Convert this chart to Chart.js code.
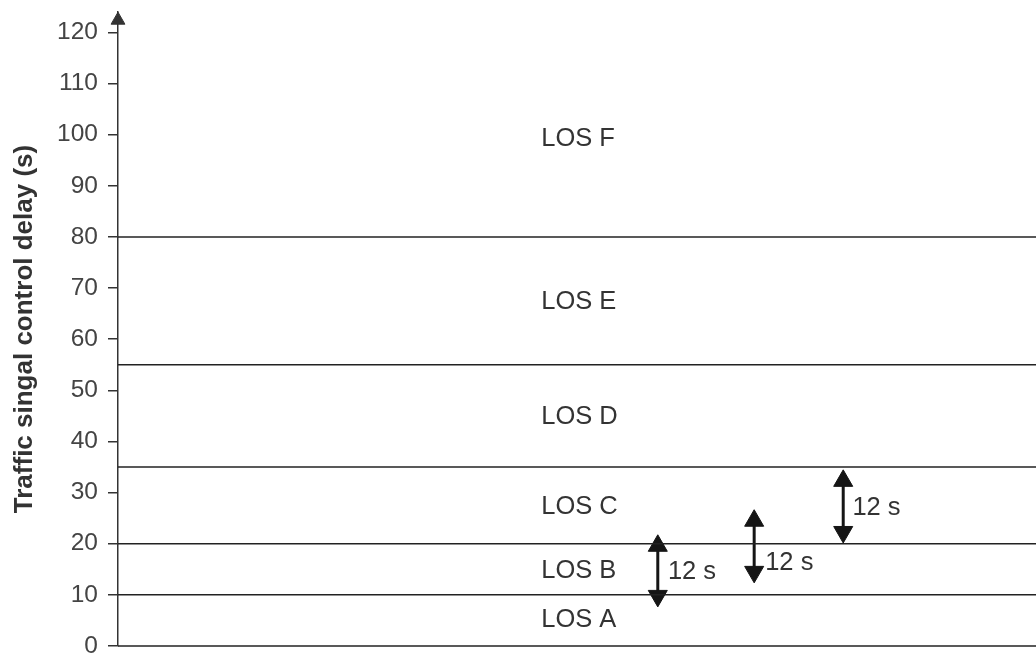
<!DOCTYPE html>
<html>
<head>
<meta charset="utf-8">
<script src="https://cdn.jsdelivr.net/npm/chart.js@4"></script>
<style>
  html, body { margin: 0; padding: 0; background: #fff; }
</style>
</head>
<body>
<canvas id="myChart" width="1036" height="657"></canvas>
<script>
// data
const yTicks = [0, 10, 20, 30, 40, 50, 60, 70, 80, 90, 100, 110, 120];
const yMin = 0;
const yMax = 124;
const losBounds = [0, 10, 20, 35, 55, 80];
const losNames = ['LOS A', 'LOS B', 'LOS C', 'LOS D', 'LOS E', 'LOS F'];
const losLabelY = [5.1, 14.7, 27.2, 44.8, 67.3, 99.2];
const losLabelX = 46.1;
const arrowX = [58.8, 69.3, 79.0];
const arrowLow = [9.8, 14.5, 22.3];
const arrowHigh = [19.6, 24.5, 32.3];
const arrowText = ['12 s', '12 s', '12 s'];
const arrowTextX = [59.9, 70.5, 80.0];
const arrowTextY = [14.5, 16.2, 27.0];
const axisArrowY = 122.4;

const fontFamily = '"Liberation Sans", Arial, Helvetica, sans-serif';

const datasets = [];

losBounds.forEach(b => {
  datasets.push({
    data: [{x: 0, y: b}, {x: 100, y: b}],
    borderColor: '#222',
    borderWidth: 1.5,
    pointRadius: 0,
    clip: false
  });
});

arrowX.forEach((x, i) => {
  datasets.push({
    data: [{x: x, y: arrowLow[i]}, {x: x, y: arrowHigh[i]}],
    borderColor: '#151515',
    backgroundColor: '#151515',
    borderWidth: 3,
    pointStyle: 'triangle',
    pointRadius: 11,
    pointBorderWidth: 1,
    pointBorderColor: '#151515',
    pointBackgroundColor: '#151515',
    pointRotation: [180, 0],
    clip: false
  });
});

// arrow head on top of the y axis
datasets.push({
  data: [{x: 0, y: axisArrowY}],
  showLine: false,
  pointStyle: 'triangle',
  pointRadius: 8,
  pointBorderWidth: 1,
  pointBorderColor: '#333',
  pointBackgroundColor: '#333',
  clip: false
});

const textPlugin = {
  id: 'textLabels',
  afterDatasetsDraw(chart) {
    const ctx = chart.ctx;
    const xs = chart.scales.x;
    const ys = chart.scales.y;
    ctx.save();
    ctx.font = '25.5px ' + fontFamily;
    ctx.fillStyle = '#333';
    ctx.textAlign = 'left';
    ctx.textBaseline = 'middle';
    losNames.forEach((n, i) => {
      ctx.fillText(n, xs.getPixelForValue(losLabelX), ys.getPixelForValue(losLabelY[i]));
    });
    arrowText.forEach((t, i) => {
      ctx.fillText(t, xs.getPixelForValue(arrowTextX[i]), ys.getPixelForValue(arrowTextY[i]));
    });
    ctx.restore();
  }
};

const ctx = document.getElementById('myChart').getContext('2d');
const myChart = new Chart(ctx, {
  type: 'line',
  data: { datasets: datasets },
  plugins: [textPlugin],
  options: {
    responsive: false,
    devicePixelRatio: 1,
    animation: false,
    layout: { autoPadding: false, padding: { top: 12, bottom: 11, left: 0, right: 0 } },
    plugins: {
      legend: { display: false },
      tooltip: { enabled: false }
    },
    scales: {
      x: { type: 'linear', min: 0, max: 100, display: false },
      y: {
        type: 'linear',
        min: yMin,
        max: yMax,
        afterBuildTicks: s => { s.ticks = yTicks.map(v => ({value: v})); },
        afterFit: s => { s.width = 118; s.paddingTop = 0; s.paddingBottom = 0; },
        grid: { drawOnChartArea: false, drawTicks: true, tickLength: 10, color: '#333', lineWidth: 1.5 },
        border: { color: '#333', width: 1.5 },
        ticks: { padding: 10, color: '#444', font: { size: 24.5, family: fontFamily } },
        title: {
          display: true,
          text: 'Traffic singal control delay (s)',
          color: '#333',
          font: { size: 26, weight: 'bold', family: fontFamily },
          padding: { top: 9, bottom: 0 }
        }
      }
    }
  }
});
</script>
</body>
</html>
